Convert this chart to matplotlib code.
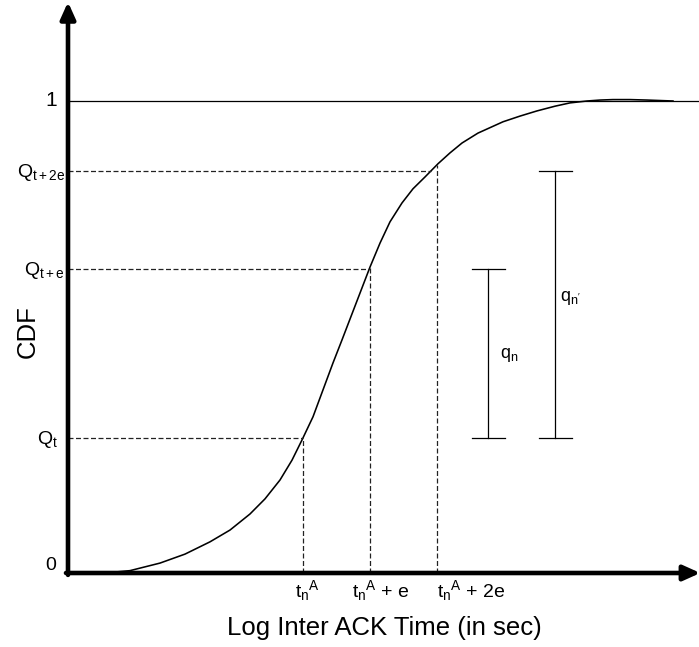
import numpy as np
import matplotlib
matplotlib.use("Agg")
import matplotlib.pyplot as plt

plt.rcParams['font.family'] = ['Liberation Sans', 'DejaVu Sans']
plt.rcParams['mathtext.fontset'] = 'custom'
plt.rcParams['mathtext.rm'] = 'Liberation Sans'
plt.rcParams['mathtext.it'] = 'Liberation Sans'
plt.rcParams['mathtext.bf'] = 'Liberation Sans:bold'

# ---- data (schematic CDF curve) ----
curve_x = [0.552, 0.925, 1.373, 1.746, 2.119, 2.418, 2.716, 2.940, 3.164, 3.343,
           3.493, 3.657, 3.806, 3.955, 4.090, 4.209, 4.358, 4.507, 4.657, 4.806,
           4.985, 5.149, 5.328, 5.522, 5.701, 5.881, 6.119, 6.493, 6.746, 7.000,
           7.269, 7.493, 7.746, 7.940, 8.134, 8.388, 8.642, 8.836, 9.030]
curve_y = [0.000, 0.005, 0.021, 0.040, 0.066, 0.091, 0.125, 0.157, 0.197, 0.239,
           0.282, 0.331, 0.388, 0.445, 0.494, 0.538, 0.593, 0.648, 0.699, 0.744,
           0.784, 0.814, 0.839, 0.867, 0.890, 0.911, 0.932, 0.956, 0.968, 0.979,
           0.989, 0.996, 1.000, 1.002, 1.003, 1.003, 1.002, 1.001, 1.000]

t_points = [3.5, 4.5, 5.5]               # t_n^A, t_n^A + e, t_n^A + 2e
q_levels = [0.286, 0.644, 0.852]          # Q_t, Q_t+e, Q_t+2e
q_labels = [r'Q$_{\mathrm{t}}$', r'Q$_{\mathrm{t+e}}$', r'Q$_{\mathrm{t+2e}}$']
t_labels = [r'$\mathrm{t}_{\mathrm{n}}{}^{\mathrm{A}}$',
            r'$\mathrm{t}_{\mathrm{n}}{}^{\mathrm{A}}$ + e',
            r'$\mathrm{t}_{\mathrm{n}}{}^{\mathrm{A}}$ + 2e']
bar_x = [6.27, 7.27]                      # q_n, q_n'
bar_lo = [0.286, 0.286]
bar_hi = [0.644, 0.852]
bar_labels = [r'q$_{\mathrm{n}}$', r"q$_{\mathrm{n'}}$"]

W, H = 699, 647
fig = plt.figure(figsize=(W / 100, H / 100), dpi=100)
ax = fig.add_axes([68 / W, (H - 573) / H, (W - 68) / W, 573 / H])
xmax = (W - 68) / 67
ymax = 573 / 472
ax.set_xlim(0, xmax)
ax.set_ylim(0, ymax)
ax.axis('off')

# horizontal line at 1
ax.plot([0, xmax], [1, 1], color='black', lw=0.9, solid_capstyle='butt')

# curve
ax.plot(curve_x, curve_y, color='black', lw=1.15, solid_joinstyle='round')

# dashed guides
cy = np.array(curve_y)
cx = np.array(curve_x)
mono = slice(0, 33)
for q in q_levels:
    xi = np.interp(q, cy[mono], cx[mono])
    ax.plot([0, xi], [q, q], color='#222222', lw=0.9, dashes=(4, 2))
for t in t_points:
    yi = np.interp(t, cx, cy)
    ax.plot([t, t], [0, yi], color='#222222', lw=0.9, dashes=(4, 2))

# bars
cap = 0.245
for bx, lo, hi in zip(bar_x, bar_lo, bar_hi):
    ax.plot([bx, bx], [lo, hi], color='black', lw=0.9)
    ax.plot([bx - cap, bx + cap], [lo, lo], color='black', lw=0.9)
    ax.plot([bx - cap, bx + cap], [hi, hi], color='black', lw=0.9)
ax.text(6.45, 0.462, bar_labels[0], fontsize=13, ha='left', va='center')
ax.text(7.34, 0.583, bar_labels[1], fontsize=13, ha='left', va='center')

# axes with arrows
ax.annotate('', xy=(0, (573 - 2) / 472), xytext=(0, -0.004),
            arrowprops=dict(arrowstyle='-|>,head_length=1.0,head_width=0.45',
                            lw=3.3, color='black', shrinkA=0, shrinkB=0),
            annotation_clip=False)
ax.annotate('', xy=(xmax + 0.02, 0), xytext=(-0.03, 0),
            arrowprops=dict(arrowstyle='-|>,head_length=1.0,head_width=0.45',
                            lw=3.3, color='black', shrinkA=0, shrinkB=0),
            annotation_clip=False)

# y labels
ax.text(-0.17, 1.0, '1', fontsize=15, ha='right', va='center')
ax.text(-0.17, 0.015, '0', fontsize=14, ha='right', va='center')
q_xpos = [-0.15, -0.045, -0.045]
for q, lab, xp in zip(q_levels, q_labels, q_xpos):
    ax.text(xp, q - 0.003, lab, fontsize=14, ha='right', va='center')

# x labels
t_xpos = [3.39, 4.24, 5.51]
for xp, lab in zip(t_xpos, t_labels):
    ax.text(xp, -0.011, lab, fontsize=14, ha='left', va='top')

ax.text(4.72, -0.117, 'Log Inter ACK Time (in sec)', fontsize=18.5, ha='center', va='center')
ax.text(-0.6, 0.511, 'CDF', fontsize=18.5, ha='center', va='center', rotation=90)

fig.savefig('out.png', dpi=100)
